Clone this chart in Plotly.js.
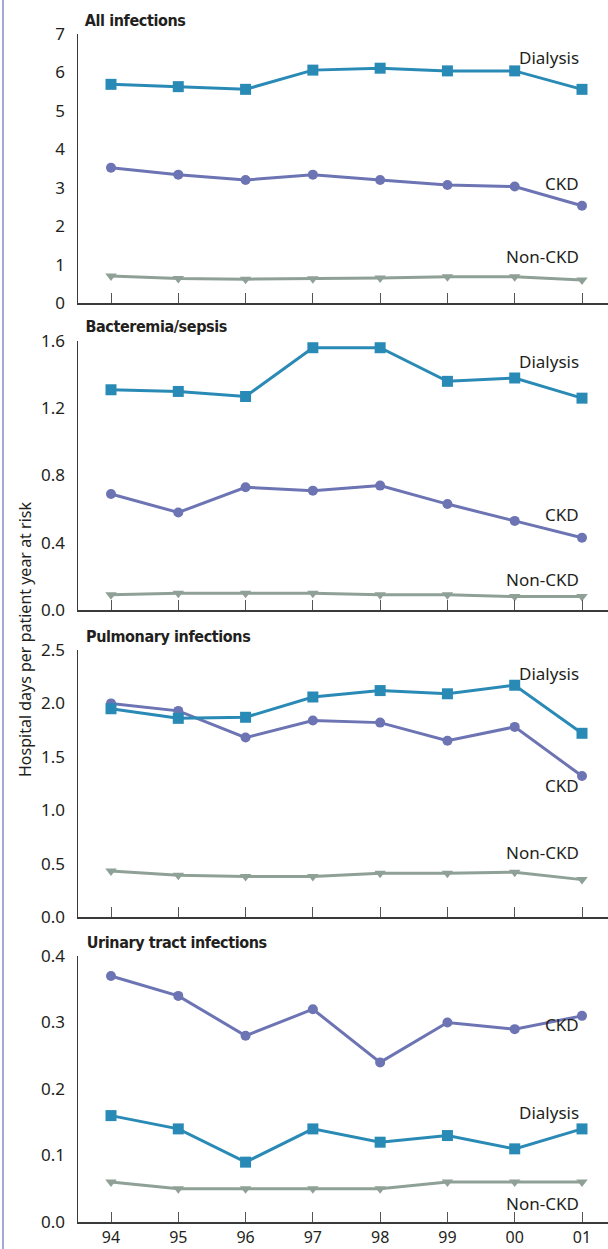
<!DOCTYPE html>
<html>
<head>
<meta charset="utf-8">
<script src="https://cdn.plot.ly/plotly-3.0.1.min.js"></script>
<style>
  html, body { margin: 0; padding: 0; background: #ffffff; }
  #chart { width: 608px; height: 1249px; }
</style>
</head>
<body>
<div id="chart"></div>
<script>
// Years on the shared horizontal axis
const years = ['94', '95', '96', '97', '98', '99', '00', '01'];

// All infections
const allDialysis = [5.69, 5.63, 5.56, 6.06, 6.11, 6.04, 6.04, 5.56];
const allCKD      = [3.52, 3.34, 3.20, 3.34, 3.20, 3.07, 3.03, 2.53];
const allNonCKD   = [0.70, 0.64, 0.62, 0.63, 0.65, 0.68, 0.68, 0.60];

// Bacteremia/sepsis
const bactDialysis = [1.31, 1.30, 1.27, 1.56, 1.56, 1.36, 1.38, 1.26];
const bactCKD      = [0.69, 0.58, 0.73, 0.71, 0.74, 0.63, 0.53, 0.43];
const bactNonCKD   = [0.09, 0.10, 0.10, 0.10, 0.09, 0.09, 0.08, 0.08];

// Pulmonary infections
const pulmDialysis = [1.95, 1.86, 1.87, 2.06, 2.12, 2.09, 2.17, 1.72];
const pulmCKD      = [2.00, 1.93, 1.68, 1.84, 1.82, 1.65, 1.78, 1.32];
const pulmNonCKD   = [0.43, 0.39, 0.38, 0.38, 0.41, 0.41, 0.42, 0.35];

// Urinary tract infections
const utiDialysis = [0.16, 0.14, 0.09, 0.14, 0.12, 0.13, 0.11, 0.14];
const utiCKD      = [0.37, 0.34, 0.28, 0.32, 0.24, 0.30, 0.29, 0.31];
const utiNonCKD   = [0.06, 0.05, 0.05, 0.05, 0.05, 0.06, 0.06, 0.06];

const panelTitles = ['All infections', 'Bacteremia/sepsis', 'Pulmonary infections', 'Urinary tract infections'];
const seriesNames = ['Dialysis', 'CKD', 'Non-CKD'];

const W = 608, H = 1249;
const COL = { Dialysis: '#2a8ab6', CKD: '#6c74b3', 'Non-CKD': '#8fa197' };
const SYM = { Dialysis: 'square', CKD: 'circle', 'Non-CKD': 'triangle-down' };
const MSIZE = { Dialysis: 11, CKD: 10, 'Non-CKD': 10 };
const TEXT = '#231f20';
const BODY_FONT = 'Noto Sans, Open Sans, sans-serif';
const TITLE_FONT = 'DejaVu Sans Condensed, Liberation Sans Narrow, sans-serif';

// pixel extents of each panel (top of range, x-axis line)
const panelPx = [[34, 303], [341, 610], [650, 917], [956, 1222]];
const yRanges = [[0, 7], [0, 1.6], [0, 2.5], [0, 0.4]];
const yTicks = [
  [0, 1, 2, 3, 4, 5, 6, 7],
  [0, 0.4, 0.8, 1.2, 1.6],
  [0, 0.5, 1.0, 1.5, 2.0, 2.5],
  [0, 0.1, 0.2, 0.3, 0.4]
];
const yFormats = ['d', '.1f', '.1f', '.1f'];

const panels = [
  { Dialysis: allDialysis,  CKD: allCKD,  'Non-CKD': allNonCKD },
  { Dialysis: bactDialysis, CKD: bactCKD, 'Non-CKD': bactNonCKD },
  { Dialysis: pulmDialysis, CKD: pulmCKD, 'Non-CKD': pulmNonCKD },
  { Dialysis: utiDialysis,  CKD: utiCKD,  'Non-CKD': utiNonCKD }
];

// label anchor heights (data units) for series names at the right end
const labelY = [
  { Dialysis: 6.40, CKD: 3.12, 'Non-CKD': 1.20 },
  { Dialysis: 1.48, CKD: 0.57, 'Non-CKD': 0.18 },
  { Dialysis: 2.28, CKD: 1.23, 'Non-CKD': 0.60 },
  { Dialysis: 0.165, CKD: 0.297, 'Non-CKD': 0.028 }
];

const xLeft = 78, xRight = 608;
const x0px = 111, x7px = 582;
const step = (x7px - x0px) / 7;
const xRange = [(xLeft - x0px) / step, 7 + (xRight - x7px) / step];

const traces = [];
const layout = {
  width: W, height: H,
  margin: { l: 0, r: 0, t: 0, b: 0 },
  paper_bgcolor: '#ffffff',
  plot_bgcolor: '#ffffff',
  showlegend: false,
  font: { family: BODY_FONT, size: 17, color: TEXT },
  annotations: [],
  shapes: [
    { type: 'line', xref: 'paper', yref: 'paper', x0: 3 / W, x1: 3 / W, y0: 0, y1: 1,
      line: { color: '#a3aad3', width: 2 } }
  ]
};

panels.forEach((p, i) => {
  const n = i === 0 ? '' : String(i + 1);
  const xa = 'x' + n, ya = 'y' + n;
  const [top, bot] = panelPx[i];
  const isLast = i === panels.length - 1;

  layout['xaxis' + n] = {
    type: 'category',
    domain: [xLeft / W, 1],
    range: xRange,
    anchor: ya,
    showline: true, linecolor: '#3a3a3a', linewidth: 1.5,
    ticks: 'inside', ticklen: 10, tickcolor: '#555555', tickwidth: 1,
    showgrid: false, zeroline: false,
    showticklabels: isLast,
    ticklabelstandoff: 0,
    tickfont: { family: BODY_FONT, size: 16, color: TEXT },
    fixedrange: true
  };
  layout['yaxis' + n] = {
    domain: [1 - bot / H, 1 - top / H],
    range: yRanges[i],
    anchor: xa,
    showline: true, linecolor: '#3a3a3a', linewidth: 1.5,
    ticks: '', showgrid: false, zeroline: false,
    tickvals: yTicks[i], tickformat: yFormats[i],
    ticklabelstandoff: 8,
    tickfont: { family: BODY_FONT, size: 17, color: TEXT },
    fixedrange: true
  };

  // Non-CKD drawn first so the coloured lines sit on top
  ['Non-CKD', 'CKD', 'Dialysis'].forEach(s => {
    traces.push({
      type: 'scatter', mode: 'lines+markers',
      x: years, y: p[s], xaxis: xa, yaxis: ya, name: s,
      line: { color: COL[s], width: 3 },
      marker: { color: COL[s], symbol: SYM[s], size: MSIZE[s] },
      cliponaxis: false,
      hoverinfo: 'skip'
    });
  });

  layout.annotations.push({
    xref: 'paper', yref: 'paper',
    x: 80 / W, y: 1 - (top - 14) / H,
    xanchor: 'left', yanchor: 'middle',
    text: '<b>' + panelTitles[i] + '</b>',
    showarrow: false,
    font: { family: TITLE_FONT, size: 16, color: TEXT }
  });

  seriesNames.forEach(s => {
    layout.annotations.push({
      xref: xa, yref: ya,
      x: 7, y: labelY[i][s], xshift: -1,
      xanchor: 'right', yanchor: 'middle',
      text: s, showarrow: false,
      font: { family: BODY_FONT, size: 17, color: TEXT }
    });
  });
});

layout.annotations.push({
  xref: 'paper', yref: 'paper',
  x: 25 / W, y: 1 - 640 / H,
  xanchor: 'center', yanchor: 'middle',
  textangle: -90,
  text: 'Hospital days per patient year at risk',
  showarrow: false,
  font: { family: BODY_FONT, size: 16, color: TEXT }
});

Plotly.newPlot('chart', traces, layout, { displayModeBar: false, staticPlot: true }).then(() => {
  // tighten the bold panel headings a little
  document.querySelectorAll('.annotation-text').forEach(t => {
    if (/<b>|font-weight/.test(t.innerHTML)) {
      t.style.letterSpacing = '-0.4px';
    }
  });
});
</script>
</body>
</html>
